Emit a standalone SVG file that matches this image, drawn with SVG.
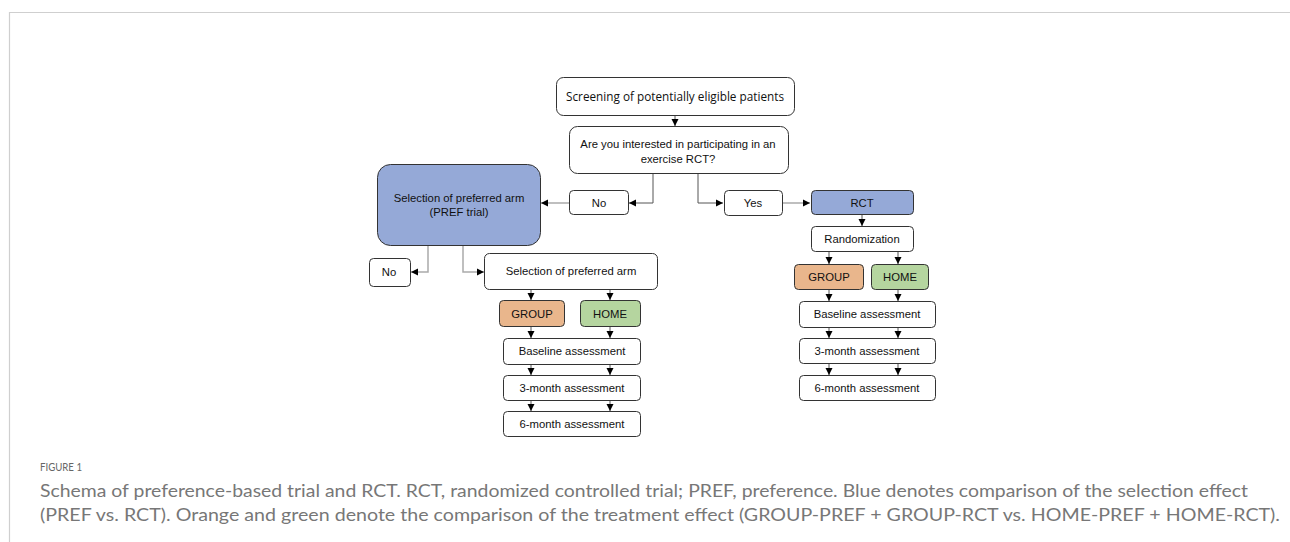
<svg xmlns="http://www.w3.org/2000/svg" width="1290" height="542" viewBox="0 0 1290 542">
<style>
.box{fill:#fff;stroke:#333;stroke-width:1}
.blue{fill:#95a9d7;stroke:#333;stroke-width:1}
.orange{fill:#e9b68c;stroke:#333;stroke-width:1}
.green{fill:#b5d59f;stroke:#333;stroke-width:1}
.t{font-family:"Liberation Sans",Arial,sans-serif;font-size:11.3px;fill:#111;text-anchor:middle}
.c{fill:none;stroke:#555;stroke-width:1}
.cl{fill:none;stroke:#aaa;stroke-width:1.5}
.cap{font-family:Lato,"Noto Sans",sans-serif;font-weight:400;fill:#777}
</style>
<defs>
<marker id="ah" markerWidth="8" markerHeight="8" refX="7" refY="4" orient="auto" markerUnits="userSpaceOnUse">
<path d="M0,0.5 L7,4 L0,7.5 Z" fill="#000"/>
</marker>
</defs>
<rect width="1290" height="542" fill="#fff"/>
<path d="M9.5,542 V12.5 H1290" fill="none" stroke="#cfcfcf" stroke-width="1.2"/>

<g id="connectors">
<path class="c" d="M675,115 V126" marker-end="url(#ah)"/>
<path class="c" d="M653,173 V203 H629" marker-end="url(#ah)"/>
<path class="c" d="M698,173 V203 H723" marker-end="url(#ah)"/>
<path class="cl" d="M569,203 H541" marker-end="url(#ah)"/>
<path class="cl" d="M782,203 H810" marker-end="url(#ah)"/>
<path class="c" d="M862,214 V226" marker-end="url(#ah)"/>
<path class="c" d="M829,251 V264" marker-end="url(#ah)"/>
<path class="c" d="M898,251 V264" marker-end="url(#ah)"/>
<path class="c" d="M829,289 V301" marker-end="url(#ah)"/>
<path class="c" d="M898,289 V301" marker-end="url(#ah)"/>
<path class="c" d="M829,327 V338" marker-end="url(#ah)"/>
<path class="c" d="M898,327 V338" marker-end="url(#ah)"/>
<path class="c" d="M829,363 V375" marker-end="url(#ah)"/>
<path class="c" d="M898,363 V375" marker-end="url(#ah)"/>
<path class="cl" d="M428,245 V272 H411" marker-end="url(#ah)"/>
<path class="cl" d="M463,245 V272 H484" marker-end="url(#ah)"/>
<path class="c" d="M531,289 V300" marker-end="url(#ah)"/>
<path class="c" d="M610,289 V300" marker-end="url(#ah)"/>
<path class="c" d="M531,326 V338" marker-end="url(#ah)"/>
<path class="c" d="M610,326 V338" marker-end="url(#ah)"/>
<path class="c" d="M531,364 V375" marker-end="url(#ah)"/>
<path class="c" d="M610,364 V375" marker-end="url(#ah)"/>
<path class="c" d="M531,400 V411" marker-end="url(#ah)"/>
<path class="c" d="M610,400 V411" marker-end="url(#ah)"/>
</g>

<g id="screening">
<rect class="box" x="556.5" y="77.5" width="238" height="38" rx="7"/>
<text x="675" y="101" style="font-family:'Open Sans','Noto Sans',sans-serif;font-size:12.5px;fill:#111;text-anchor:middle" textLength="218" lengthAdjust="spacingAndGlyphs">Screening of potentially eligible patients</text>
</g>
<g id="question">
<rect class="box" x="569.5" y="126.5" width="219" height="47" rx="8"/>
<text class="t" x="678" y="148">Are you interested in participating in an</text>
<text class="t" x="678" y="163">exercise RCT?</text>
</g>
<g id="no-mid">
<rect class="box" x="569.5" y="190.5" width="59" height="24" rx="4"/>
<text class="t" x="599" y="207">No</text>
</g>
<g id="yes">
<rect class="box" x="724.5" y="190.5" width="58" height="25" rx="4"/>
<text class="t" x="753" y="207">Yes</text>
</g>
<g id="pref">
<rect class="blue" x="377.5" y="164.5" width="163" height="81" rx="13"/>
<text class="t" x="459" y="202">Selection of preferred arm</text>
<text class="t" x="459" y="216">(PREF trial)</text>
</g>
<g id="no-left">
<rect class="box" x="369.5" y="258.5" width="41" height="28" rx="4"/>
<text class="t" x="389" y="276">No</text>
</g>
<g id="sel">
<rect class="box" x="484.5" y="253.5" width="173" height="36" rx="5"/>
<text class="t" x="571" y="275">Selection of preferred arm</text>
</g>
<g id="group-pref">
<rect class="orange" x="499.5" y="300.5" width="65" height="26" rx="4"/>
<text class="t" x="532" y="318">GROUP</text>
</g>
<g id="home-pref">
<rect class="green" x="580.5" y="300.5" width="60" height="26" rx="4"/>
<text class="t" x="610" y="318">HOME</text>
</g>
<g id="base-pref">
<rect class="box" x="503.5" y="338.5" width="137" height="26" rx="4"/>
<text class="t" x="572" y="355">Baseline assessment</text>
</g>
<g id="m3-pref">
<rect class="box" x="503.5" y="375.5" width="137" height="25" rx="4"/>
<text class="t" x="572" y="392">3-month assessment</text>
</g>
<g id="m6-pref">
<rect class="box" x="503.5" y="411.5" width="137" height="25" rx="4"/>
<text class="t" x="572" y="428">6-month assessment</text>
</g>
<g id="rct">
<rect class="blue" x="811.5" y="190.5" width="102" height="24" rx="4"/>
<text class="t" x="862" y="207">RCT</text>
</g>
<g id="rand">
<rect class="box" x="811.5" y="226.5" width="102" height="25" rx="4"/>
<text class="t" x="862" y="243">Randomization</text>
</g>
<g id="group-rct">
<rect class="orange" x="794.5" y="264.5" width="69" height="25" rx="4"/>
<text class="t" x="829" y="281">GROUP</text>
</g>
<g id="home-rct">
<rect class="green" x="871.5" y="264.5" width="57" height="25" rx="4"/>
<text class="t" x="900" y="281">HOME</text>
</g>
<g id="base-rct">
<rect class="box" x="799.5" y="301.5" width="136" height="26" rx="4"/>
<text class="t" x="867" y="318">Baseline assessment</text>
</g>
<g id="m3-rct">
<rect class="box" x="799.5" y="338.5" width="136" height="25" rx="4"/>
<text class="t" x="867" y="355">3-month assessment</text>
</g>
<g id="m6-rct">
<rect class="box" x="799.5" y="375.5" width="136" height="25" rx="4"/>
<text class="t" x="867" y="392">6-month assessment</text>
</g>

<text class="cap" x="40" y="471" style="font-size:12px;fill:#666" textLength="42" lengthAdjust="spacingAndGlyphs">FIGURE 1</text>
<text class="cap" x="40" y="497" style="font-size:18px" textLength="1208" lengthAdjust="spacingAndGlyphs">Schema of preference-based trial and RCT. RCT, randomized controlled trial; PREF, preference. Blue denotes comparison of the selection effect</text>
<text class="cap" x="40" y="521" style="font-size:18px" textLength="1240" lengthAdjust="spacingAndGlyphs">(PREF vs. RCT). Orange and green denote the comparison of the treatment effect (GROUP-PREF + GROUP-RCT vs. HOME-PREF + HOME-RCT).</text>
</svg>
